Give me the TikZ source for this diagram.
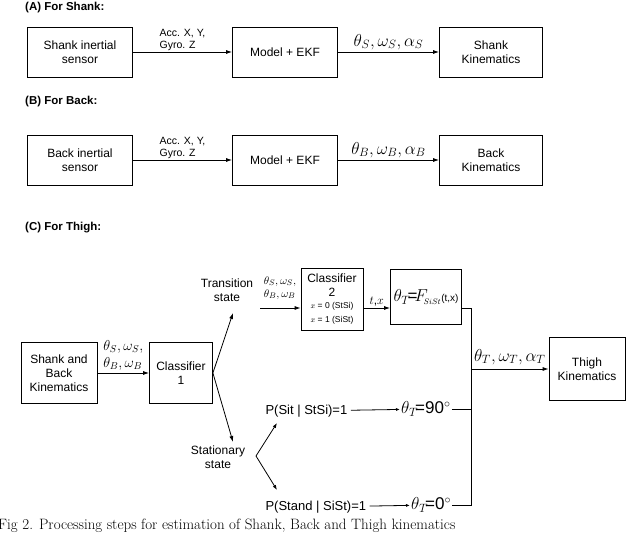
\documentclass[tikz,border=0pt]{standalone}
\usepackage{fontspec}
\setmainfont{Liberation Sans}
\newfontfamily\capfont{Latin Modern Roman}
\usetikzlibrary{arrows.meta}
\begin{document}
\begin{tikzpicture}[x=1pt,y=-1pt,
  box/.style={draw,thick,align=center,font=\fontsize{12}{14}\selectfont,inner sep=1pt},
  lbl/.style={align=left,font=\fontsize{10.5}{12}\selectfont,inner sep=1pt},
  ttl/.style={anchor=west,font=\bfseries\fontsize{11.5}{13}\selectfont,inner sep=0pt},
  big/.style={font=\fontsize{17}{19}\selectfont},
  mid/.style={font=\fontsize{14}{17}\selectfont},
  arr/.style={-{Latex[length=6pt,width=4pt]},thick},
  ln/.style={thick}]
\useasboundingbox (0,0) rectangle (640,534);
% (A)
\node[ttl] at (25,8) {(A) For Shank:};
\node[box,minimum width=105,minimum height=50] (a1) at (80,52) {Shank inertial\\sensor};
\node[box,minimum width=105,minimum height=50] (a2) at (285,52) {Model + EKF};
\node[box,minimum width=103,minimum height=50] (a3) at (491,52) {Shank\\Kinematics};
\draw[arr] (a1) -- node[lbl,above]{Acc. X, Y,\\Gyro. Z} (a2);
\draw[arr] (a2) -- node[above,inner sep=2pt,big]{$\theta_S,\omega_S,\alpha_S$} (a3);
% (B)
\node[ttl] at (25,102) {(B) For Back:};
\node[box,minimum width=105,minimum height=50] (b1) at (80,160) {Back inertial\\sensor};
\node[box,minimum width=105,minimum height=50] (b2) at (285,160) {Model + EKF};
\node[box,minimum width=103,minimum height=50] (b3) at (491,160) {Back\\Kinematics};
\draw[arr] (b1) -- node[lbl,above]{Acc. X, Y,\\Gyro. Z} (b2);
\draw[arr] (b2) -- node[above,inner sep=2pt,big]{$\theta_B,\omega_B,\alpha_B$} (b3);
% (C)
\node[ttl] at (25,228) {(C) For Thigh:};
\node[box,minimum width=76,minimum height=61] (c0) at (59,373) {Shank and\\Back\\Kinematics};
\node[box,minimum width=63,minimum height=61] (c1) at (181,373) {Classifier\\1};
\draw[arr] (c0) -- node[above,inner sep=2pt,align=left,mid]{$\theta_S,\omega_S,$\\$\theta_B,\omega_B$} (c1);
\node[align=center,font=\fontsize{12}{14}\selectfont] (tr) at (227,290) {Transition\\state};
\node[align=center,font=\fontsize{12}{14}\selectfont] (st) at (218,457) {Stationary\\state};
\coordinate (fork) at (c1.east);
\draw[arr] (fork) -- (233,313);
\draw[arr] (fork) -- (233,442);
\node[box,minimum width=62,minimum height=62,align=center] (c2) at (332,299)
  {Classifier\\2\\[-2pt]{\fontsize{8.5}{10}\selectfont $x$ = 0 (StSi)}\\{\fontsize{8.5}{10}\selectfont $x$ = 1 (SiSt)}};
\coordinate (tin) at (260,308);
\draw[arr] (tin) -- (c2.west |- tin);
\node[align=left,inner sep=1pt,font=\fontsize{11}{13}\selectfont] at (280,288) {$\theta_S,\omega_S,$\\$\theta_B,\omega_B$};
\node[draw,thick,minimum width=71,minimum height=55,inner sep=0pt] (f) at (426,297)
  {\fontsize{17}{19}\selectfont$\theta_T\!$=$\!F_{\!\scriptscriptstyle SiSt}$\fontsize{10}{10}\selectfont(t,x)};
\draw[arr] (c2.east |- 0,308) -- node[above,inner sep=2pt,font=\fontsize{12}{12}\selectfont]{$t$,$x$} (f.west |- 0,308);
\coordinate (s1) at (256,456);
\node[font=\fontsize{13}{15}\selectfont,anchor=west] (p1) at (262,411) {P(Sit | StSi)=1};
\node[font=\fontsize{13}{15}\selectfont,anchor=west] (p2) at (262,507) {P(Stand | SiSt)=1};
\draw[ln,-{Latex[length=5pt,width=3.5pt]}] (s1) -- (277,423);
\draw[ln,-{Latex[length=5pt,width=3.5pt]}] (s1) -- (277,490);
\node[big,anchor=west,inner sep=1pt] (t90) at (400,409) {$\theta_T\!$=90$^{\circ}$};
\node[big,anchor=west,inner sep=1pt] (t0) at (410,505) {$\theta_T\!$=0$^{\circ}$};
\draw[ln,-{Latex[length=4pt,width=3pt]}] (p1) -- (t90);
\draw[ln,-{Latex[length=4pt,width=3pt]}] (p2) -- (t0);
\node[box,minimum width=76,minimum height=63] (th) at (587,369) {Thigh\\Kinematics};
\coordinate (bus) at (471,369);
\draw[ln] (f.east |- 0,308) -| (471,505) -- (t0.east);
\draw[ln] (t90.east) -- (471,409);
\draw[arr] (bus) -- node[above,inner sep=4pt,big]{$\theta_T,\omega_T,\alpha_T$} (th);
% caption
\node[anchor=west,inner sep=0pt,font=\capfont\fontsize{15}{17}\selectfont] at (-2,526)
  {Fig 2. Processing steps for estimation of Shank, Back and Thigh kinematics};
\end{tikzpicture}
\end{document}
